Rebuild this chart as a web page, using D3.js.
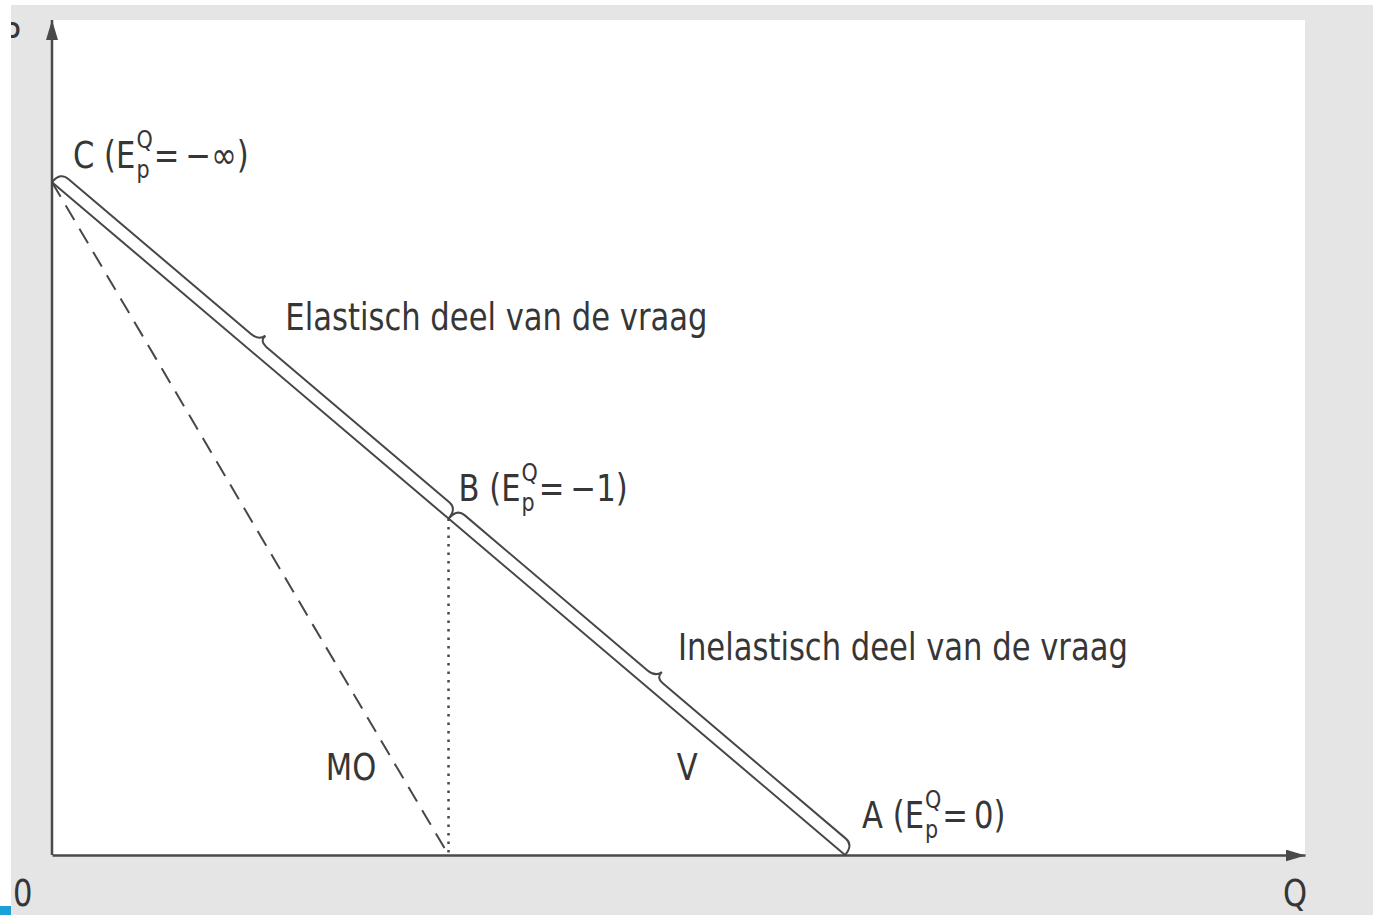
<!DOCTYPE html>
<html>
<head>
<meta charset="utf-8">
<script src="https://cdn.jsdelivr.net/npm/d3@7"></script>
<style>
html, body { margin: 0; padding: 0; background: #fff; overflow: hidden; }
text { font-family: "Liberation Sans Narrow", "DejaVu Sans Condensed", sans-serif; fill: #363636; }
</style>
</head>
<body>
<svg id="chart"></svg>
<script>
// demand curve V and marginal revenue MO (Q on x, P on y)
const demandQ = [0, 5, 10];
const demandP = [10, 5, 0];
const moQ = [0, 5];
const moP = [10, 0];
const pointNames = ['C', 'B', 'A'];
const elasticities = ['=\u2009\u2212\u221e)', '=\u2009\u22121)', '=\u20090)'];
const braceLabels = ['Elastisch deel van de vraag', 'Inelastisch deel van de vraag'];
const curveNames = ['MO', 'V'];
const axisNames = ['P', 'Q', '0'];
const qMax = 15.8, pMax = 12.41;

const W = 1373, H = 915;
const origin = {x: 52, y: 855};
const top_y = 20, right_x = 1305;
const ink = '#474747';
const fs = 37, fsSmall = 25, squeeze = 0.92;

const svg = d3.select('#chart').attr('width', W).attr('height', H);

// condensed text: narrow the glyphs around the anchor point
function label(parent, px, py, str, size, anchor) {
    return parent.append('text')
        .attr('transform', `translate(${px}, ${py}) scale(${squeeze}, 1)`)
        .attr('text-anchor', anchor || 'start')
        .attr('font-size', size)
        .text(str);
}

// scanned page background
svg.append('rect').attr('width', W).attr('height', H).attr('fill', '#e5e5e5');
svg.append('rect').attr('width', W).attr('height', 5).attr('fill', '#fff');
svg.append('rect').attr('x', origin.x).attr('y', top_y)
    .attr('width', right_x - origin.x).attr('height', origin.y - top_y).attr('fill', '#fff');

const x = d3.scaleLinear().domain([0, qMax]).range([origin.x, right_x]);
const y = d3.scaleLinear().domain([0, pMax]).range([origin.y, top_y]);

// arrow heads
const defs = svg.append('defs');
defs.append('marker').attr('id', 'arrow')
    .attr('viewBox', '0 0 20 12').attr('refX', 20).attr('refY', 6)
    .attr('markerWidth', 20).attr('markerHeight', 12)
    .attr('markerUnits', 'userSpaceOnUse').attr('orient', 'auto')
  .append('path').attr('d', 'M0,0 L20,6 L0,12 Z').attr('fill', '#4a4a4a');

const xaxis = d3.axisBottom(x).tickValues([]).tickSizeOuter(0);
const yaxis = d3.axisLeft(y).tickValues([]).tickSizeOuter(0);

svg.append('g').attr('transform', `translate(0, ${origin.y})`).call(xaxis)
    .select('.domain').attr('stroke', '#4a4a4a').attr('stroke-width', 2.5)
    .attr('marker-end', 'url(#arrow)');
svg.append('g').attr('transform', `translate(${origin.x}, 0)`).call(yaxis)
    .select('.domain').attr('stroke', '#4a4a4a').attr('stroke-width', 2.5)
    .attr('d', `M0,${origin.y}V${top_y}`)
    .attr('marker-end', 'url(#arrow)');

const pts = demandQ.map((q, i) => [x(q), y(demandP[i])]);

const line = d3.line().x(d => x(d[0])).y(d => y(d[1]));

// MO (dashed)
svg.append('path')
    .attr('d', line(moQ.map((q, i) => [q, moP[i]])))
    .attr('fill', 'none').attr('stroke', ink).attr('stroke-width', 2)
    .attr('stroke-dasharray', '17,10');

// dotted drop from B
svg.append('path')
    .attr('d', line([[demandQ[1], demandP[1]], [demandQ[1], 0]]))
    .attr('fill', 'none').attr('stroke', ink).attr('stroke-width', 2.5)
    .attr('stroke-dasharray', '2.5,6');

// demand line V
svg.append('path')
    .attr('d', line(demandQ.map((q, i) => [q, demandP[i]])))
    .attr('fill', 'none').attr('stroke', ink).attr('stroke-width', 2);

// braces along the demand line
function bracePath(p0, p1, h, tip, q) {
    const dx = p1[0] - p0[0], dy = p1[1] - p0[1], L = Math.hypot(dx, dy);
    const u = [dx / L, dy / L], n = [u[1], -u[0]];
    const pt = (t, s) => [p0[0] + u[0] * t + n[0] * s, p0[1] + u[1] * t + n[1] * s];
    const m = L / 2;
    const p = d3.path();
    p.moveTo(...pt(0, 0));
    p.quadraticCurveTo(...pt(0, h), ...pt(q, h));
    p.lineTo(...pt(m - q, h));
    p.quadraticCurveTo(...pt(m, h), ...pt(m + 2, h + tip));
    p.quadraticCurveTo(...pt(m + 1, h), ...pt(m + q, h));
    p.lineTo(...pt(L - q, h));
    p.quadraticCurveTo(...pt(L, h), ...pt(L, 0));
    return {d: p.toString(), tip: pt(m + 2, h + tip)};
}

const braceOffsets = [[20, -6], [16, -12]];
[0, 1].forEach(i => {
    const b = bracePath(pts[i], pts[i + 1], 13, 8, 10);
    svg.append('path').attr('d', b.d)
        .attr('fill', 'none').attr('stroke', ink).attr('stroke-width', 2);
    label(svg, b.tip[0] + braceOffsets[i][0], b.tip[1] + braceOffsets[i][1], braceLabels[i], fs);
});

// point labels with elasticity E_p^Q
const pointOffsets = [[21, -14], [10, -18], [17, -27]];
pointNames.forEach((name, i) => {
    const g = svg.append('g')
        .attr('transform', `translate(${pts[i][0] + pointOffsets[i][0]}, ${pts[i][1] + pointOffsets[i][1]})`);
    const main = label(g, 0, 0, `${name} (E`, fs);
    const w = main.node().getComputedTextLength() * squeeze + 1;
    const sup = label(g, w, -20, 'Q', fsSmall);
    const sub = label(g, w, 10, 'p', fsSmall);
    const w2 = w + Math.max(sup.node().getComputedTextLength(), sub.node().getComputedTextLength()) * squeeze + 1;
    label(g, w2, 0, elasticities[i], fs);
});

// curve names
const labelY = 780;
const pAt = y.invert(labelY);
label(svg, x(moQ[1] * (1 - pAt / moP[0])) - 28, labelY, curveNames[0], fs, 'end');
label(svg, x(demandQ[2] * (1 - pAt / demandP[0])) - 80, labelY, curveNames[1], fs);

// axis names
label(svg, 2, 49, axisNames[0], fs);
label(svg, 1283, 906, axisNames[1], fs);
label(svg, 13, 906, axisNames[2], fs);

// page edge and corner mark
svg.append('rect').attr('width', 11).attr('height', H).attr('fill', '#fff');
svg.append('rect').attr('y', 906).attr('width', 11).attr('height', 9).attr('fill', '#1ba0d8');
</script>
</body>
</html>
